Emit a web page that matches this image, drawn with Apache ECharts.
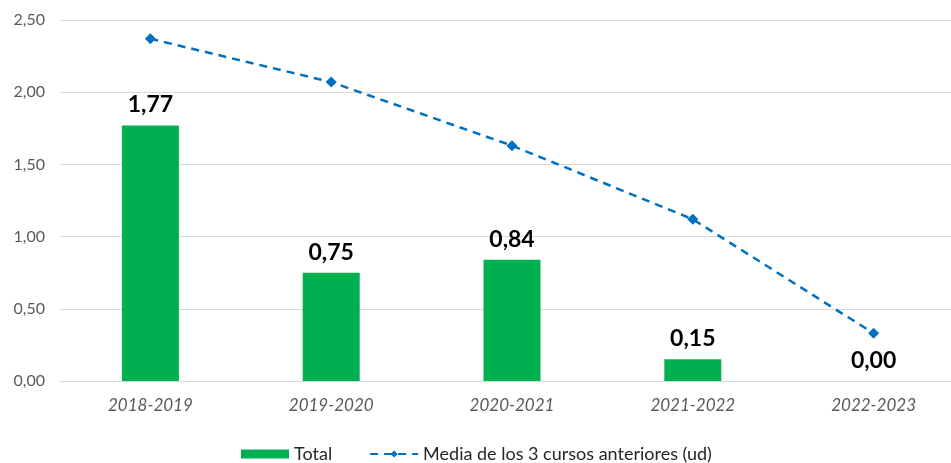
<!DOCTYPE html>
<html><head><meta charset="utf-8">
<script src="https://cdn.jsdelivr.net/npm/echarts@6/dist/echarts.min.js"></script>
<style>html,body{margin:0;padding:0;background:#fff}#c{width:951px;height:463px}</style>
</head><body><div id="c"></div>
<script>
var categories = ['2018-2019','2019-2020','2020-2021','2021-2022','2022-2023'];
var totalValues = [1.77, 0.75, 0.84, 0.15, 0.00];
var mediaValues = [2.37, 2.07, 1.63, 1.12, 0.33];
var yTicks = {min: 0, max: 2.5, interval: 0.5};
var seriesNames = ['Total', 'Media de los 3 cursos anteriores (ud)'];

function fmt(v){ return v.toFixed(2).replace('.', ','); }

var chart = echarts.init(document.getElementById('c'));
chart.setOption({
  animation: false,
  textStyle: {fontFamily: 'Lato'},
  grid: {left: 60, top: 20, right: -13, bottom: 82, containLabel: false, outerBoundsMode: 'none'},
  legend: {
    data: [{name: seriesNames[0], icon: 'rect'}, {name: seriesNames[1]}],
    top: 440, left: 236,
    itemWidth: 48, itemHeight: 9, itemGap: 37,
    textStyle: {fontFamily: 'Lato', fontSize: 18, color: '#262626'},
  },
  xAxis: {
    type: 'category', data: categories,
    axisLine: {lineStyle: {color: '#d9d9d9', width: 1}},
    axisTick: {show: false},
    axisLabel: {fontFamily: 'Lato', fontStyle: 'italic', fontSize: 17, color: '#595959', margin: 16}
  },
  yAxis: {
    type: 'value', min: yTicks.min, max: yTicks.max, interval: yTicks.interval,
    axisLine: {show: false}, axisTick: {show: false},
    splitLine: {lineStyle: {color: '#d9d9d9', width: 1}},
    axisLabel: {fontFamily: 'Lato', fontSize: 16, color: '#595959', margin: 15, formatter: fmt}
  },
  series: [
    {
      name: seriesNames[0], type: 'bar', data: totalValues, barWidth: 57,
      itemStyle: {color: '#00B050'},
      label: {show: true, position: 'top', distance: 9, formatter: function(p){return fmt(p.value);},
        fontFamily: 'Lato', fontWeight: 'bold', fontSize: 23, color: '#000'}
    },
    {
      name: seriesNames[1], type: 'line', data: mediaValues,
      symbol: 'diamond', symbolSize: 11,
      lineStyle: {color: '#0070C0', width: 2.5, type: [8, 6]},
      itemStyle: {color: '#0070C0'}
    }
  ]
});
</script></body></html>
